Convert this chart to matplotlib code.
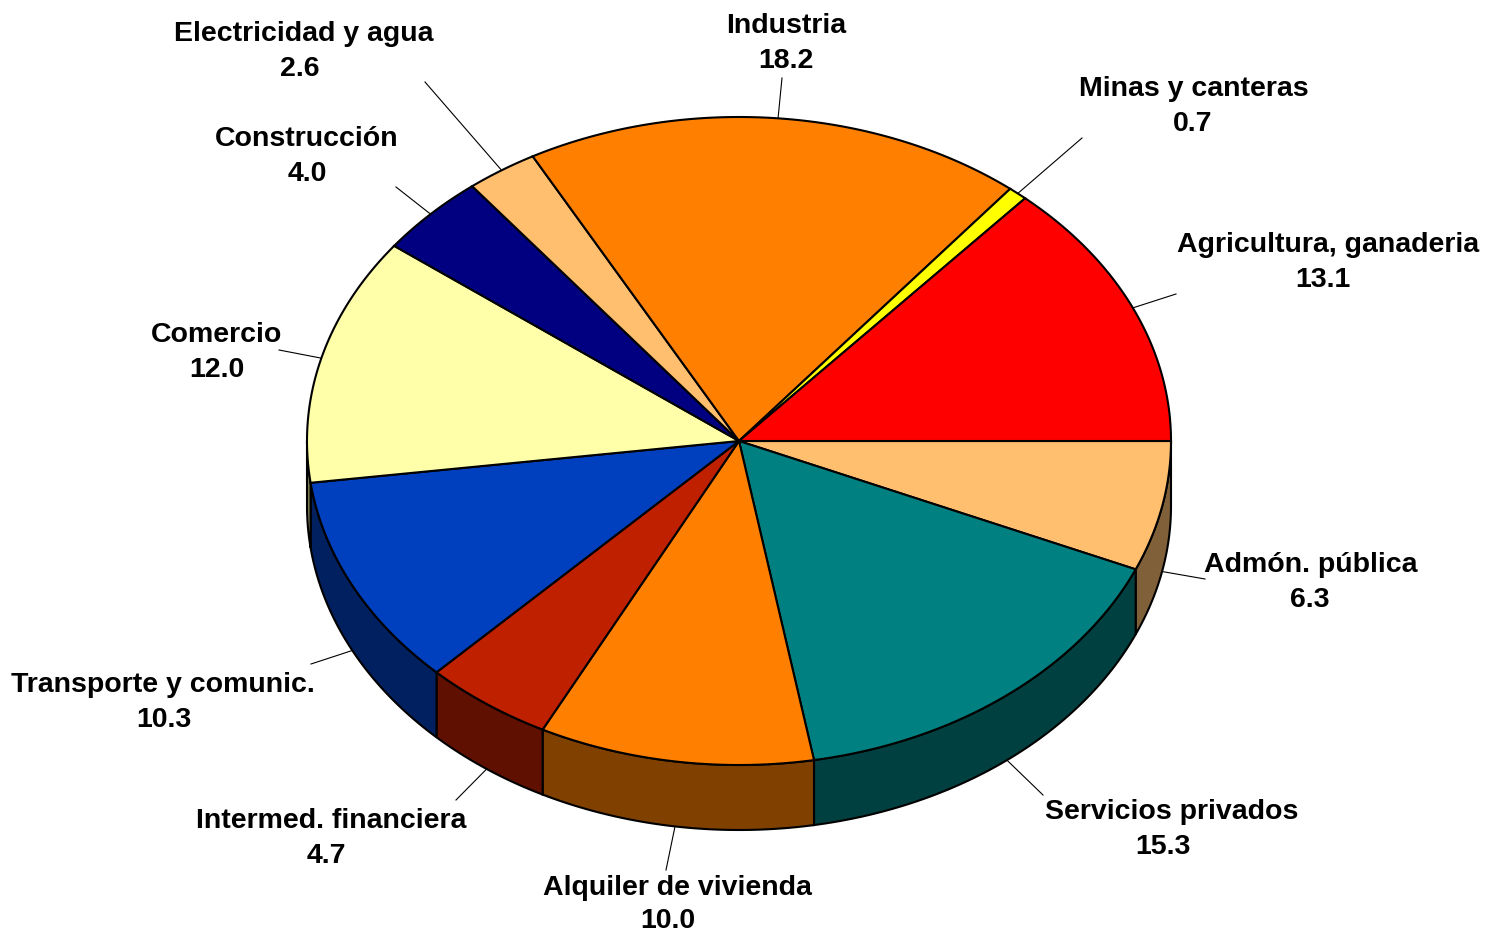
import matplotlib.pyplot as plt
import numpy as np
from matplotlib.colors import to_rgb

# clockwise from the east side of the pie
labels = ['Admón. pública', 'Servicios privados', 'Alquiler de vivienda', 'Intermed. financiera',
          'Transporte y comunic.', 'Comercio', 'Construcción', 'Electricidad y agua',
          'Industria', 'Minas y canteras', 'Agricultura, ganaderia']
values = [6.3, 15.3, 10.0, 4.7, 10.3, 12.0, 4.0, 2.6, 18.2, 0.7, 13.1]
colors = ['#FFBF6F', '#008080', '#FF8000', '#BF2000', '#0040BF', '#FFFFAA',
          '#000080', '#FFBF6F', '#FF8000', '#FFFF00', '#FF0000']

# text centres and the free end of each leader line, in pixels
label_pos = [(1311, 565), (1172, 812), (677, 888), (331, 821), (163, 685), (217, 335),
             (307, 139), (304, 34), (786, 26), (1194, 89), (1328, 245)]
value_pos = [(1310, 600), (1163, 847), (668, 921), (326, 856), (164, 720), (217, 370),
             (307, 174), (300, 69), (786, 61), (1193, 124), (1323, 280)]
leader_end = [(1205, 579), (1043, 795), (666, 870), (456, 800), (311, 664), (279, 350),
              (396, 187), (425, 82), (782, 78), (1082, 138), (1176, 294)]

cx, cy = 739, 441
rx, ry = 432, 324
depth = 65

fig = plt.figure(figsize=(14.88, 9.35), dpi=100)
ax = fig.add_axes([0, 0, 1, 1])
ax.set_xlim(0, 1488)
ax.set_ylim(935, 0)
ax.axis('off')


def rim(t):
    return cx + rx * np.cos(t), cy + ry * np.sin(t)


fracs = np.array(values) / sum(values)
edges = np.concatenate([[0], np.cumsum(fracs)]) * 2 * np.pi

# side wall, only the front half of the rim shows
for i in range(len(values)):
    t0, t1 = edges[i], min(edges[i + 1], np.pi)
    if t0 >= np.pi:
        continue
    t = np.linspace(t0, t1, 80)
    x, y = rim(t)
    dark = tuple(c * 0.5 for c in to_rgb(colors[i]))
    ax.fill(np.r_[x, x[::-1]], np.r_[y, y[::-1] + depth], fc=dark, ec='black', lw=1.5, zorder=2)

# top of the pie
for i in range(len(values)):
    t = np.linspace(edges[i], edges[i + 1], 120)
    x, y = rim(t)
    ax.fill(np.r_[cx, x], np.r_[cy, y], fc=colors[i], ec='black', lw=1.5, zorder=3)

for i in range(len(values)):
    mid = (edges[i] + edges[i + 1]) / 2
    x, y = rim(mid)
    if mid < np.pi:
        y += depth
    ax.plot([x, leader_end[i][0]], [y, leader_end[i][1]], color='black', lw=0.8, zorder=1)
    ax.text(label_pos[i][0], label_pos[i][1], labels[i], ha='center', va='center',
            family='Liberation Sans', weight='bold', fontsize=20.5, color='black')
    ax.text(value_pos[i][0], value_pos[i][1], '%.1f' % values[i], ha='center', va='center',
            family='Liberation Sans', weight='bold', fontsize=20.5, color='black')

fig.savefig('out.png', dpi=100)
